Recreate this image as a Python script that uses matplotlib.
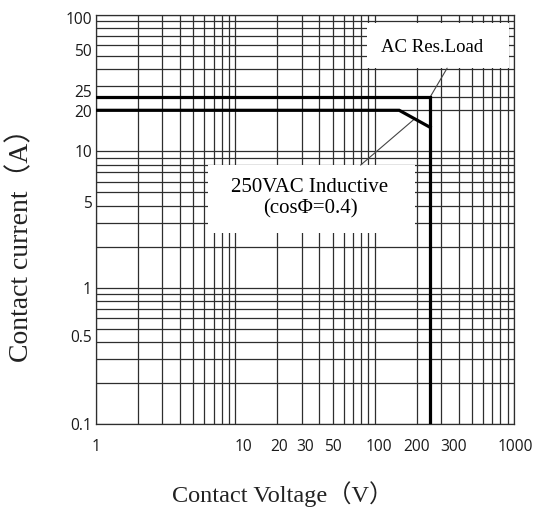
import matplotlib
matplotlib.use("Agg")
import matplotlib.pyplot as plt
from matplotlib.patches import Rectangle
from matplotlib.ticker import FixedLocator, NullFormatter, LogLocator
from matplotlib.transforms import ScaledTranslation

# ---- data ----
x_ticks = [1, 10, 20, 30, 50, 100, 200, 300, 1000]
x_tick_labels = ["1", "10", "20", "30", "50", "100", "200", "300", "1000"]
y_ticks = [0.1, 0.5, 1, 5, 10, 20, 25, 50, 100]
y_tick_labels = ["0.1", "0.5", "1", "5", "10", "20", "25", "50", "100"]

# AC resistive load boundary (V, A)
res_v = [1, 250, 250]
res_a = [25, 25, 0.1]
# 250VAC inductive (cos phi = 0.4) boundary
ind_v = [1, 150, 250]
ind_a = [20, 20, 15]

res_label = "AC Res.Load"
ind_label = "250VAC Inductive\n(cos\u03A6=0.4)"
xlabel = "Contact Voltage\uff08V\uff09"
ylabel = "Contact current\uff08A\uff09"

serif = ["Liberation Serif", "Noto Sans CJK SC", "DejaVu Sans"]

fig = plt.figure(figsize=(5.39, 5.08), dpi=100)
ax = fig.add_axes([96 / 539, 1 - 424 / 508, 418 / 539, 409 / 508])
ax.set_xscale("log")
ax.set_yscale("log")
ax.set_xlim(1, 1000)
ax.set_ylim(0.1, 100)

# grid
grid_color = "#2e2e2e"
ax.xaxis.set_minor_locator(LogLocator(base=10, subs=range(2, 10)))
ax.yaxis.set_minor_locator(LogLocator(base=10, subs=range(2, 10)))
ax.xaxis.set_minor_formatter(NullFormatter())
ax.yaxis.set_minor_formatter(NullFormatter())
ax.grid(True, which="both", color=grid_color, lw=0.9)
ax.set_axisbelow(True)
for s in ax.spines.values():
    s.set_color(grid_color)
    s.set_linewidth(0.9)

ax.xaxis.set_major_locator(FixedLocator(x_ticks))
ax.yaxis.set_major_locator(FixedLocator(y_ticks))
ax.set_xticklabels(x_tick_labels)
ax.set_yticklabels(y_tick_labels)
ax.tick_params(which="both", length=0)
ax.tick_params(axis="x", pad=11)
ax.tick_params(axis="y", pad=3)
for lab in ax.get_xticklabels() + ax.get_yticklabels():
    lab.set_fontfamily("Open Sans")
    lab.set_fontsize(11.2)
    lab.set_color("#1a1a1a")

# nudge tick labels the way the printed chart places them
def nudge(label, dx_px, dy_px):
    label.set_transform(label.get_transform() +
                        ScaledTranslation(dx_px / 100, dy_px / 100, fig.dpi_scale_trans))

ylabs = ax.get_yticklabels()
for v, dy in [(100, -3), (50, 6), (25, 6), (20, -1), (5, -10), (0.5, -7)]:
    nudge(ylabs[y_ticks.index(v)], 0, dy)
xlabs = ax.get_xticklabels()
for v, dx in [(10, 8), (20, 2), (30, 3), (100, 4), (300, 12), (1000, 1)]:
    nudge(xlabs[x_ticks.index(v)], dx, 0)

# data lines
ax.plot(res_v, res_a, color="black", lw=2.3, solid_joinstyle="miter", zorder=5)
ax.plot(ind_v, ind_a, color="black", lw=2.3, solid_joinstyle="miter", zorder=5)

# label boxes (white, covering the grid)
ax.add_patch(Rectangle((0.648, 0.870), 0.340, 0.110, transform=ax.transAxes,
                       facecolor="white", edgecolor="none", zorder=3))
ax.add_patch(Rectangle((0.267, 0.467), 0.497, 0.166, transform=ax.transAxes,
                       facecolor="white", edgecolor="none", zorder=3))
ax.text(0.805, 0.921, res_label, transform=ax.transAxes, ha="center", va="center",
        family=serif, fontsize=13.5, zorder=4)
ax.text(0.512, 0.552, ind_label, transform=ax.transAxes, ha="center", va="center",
        family=serif, fontsize=15, linespacing=1.15, zorder=4)

# leader lines
ax.annotate("", xy=(res_v[1], res_a[1]), xycoords="data",
            xytext=(0.840, 0.870), textcoords="axes fraction",
            arrowprops=dict(arrowstyle="-", lw=0.8, color="#444444",
                            shrinkA=0, shrinkB=0), zorder=4)
ax.annotate("", xy=((ind_v[1] * ind_v[2]) ** 0.5, (ind_a[1] * ind_a[2]) ** 0.5),
            xycoords="data",
            xytext=(0.633, 0.633), textcoords="axes fraction",
            arrowprops=dict(arrowstyle="-", lw=0.8, color="#444444",
                            shrinkA=0, shrinkB=0), zorder=4)

fig.text(283 / 539, 1 - 494 / 508, xlabel, ha="center", va="center",
         family=serif, fontsize=17.5, color="#222222")
fig.text(21 / 539, 1 - 239 / 508, ylabel, ha="center", va="center", rotation=90,
         family=serif, fontsize=20, color="#222222")

fig.savefig("out.png", dpi=100)
